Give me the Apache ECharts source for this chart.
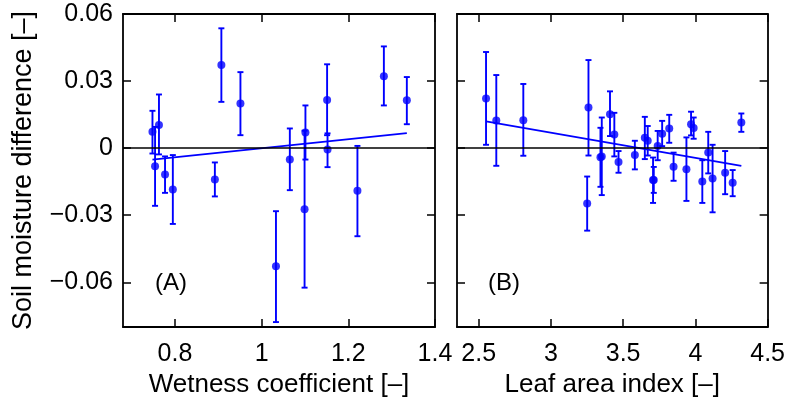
<!DOCTYPE html>
<html>
<head>
<meta charset="utf-8">
<script src="https://cdn.jsdelivr.net/npm/echarts@6/dist/echarts.min.js"></script>
<style>
html,body{margin:0;padding:0;background:#fff;}
#c{width:788px;height:408px;}
</style>
</head>
<body>
<div id="c"></div>
<script>
// ---- Panel A: wetness coefficient ----
const wetX  = [0.748, 0.754, 0.763, 0.777, 0.795, 0.892, 0.907, 0.951, 1.033, 1.065, 1.101, 1.099, 1.151, 1.152, 1.221, 1.282, 1.335];
const wetY  = [0.0073, -0.0081, 0.0104, -0.0118, -0.0185, -0.0140, 0.0372, 0.0200, -0.0528, -0.0051, 0.0070, -0.0273, 0.0215, -0.0006, -0.0191, 0.0322, 0.0214];
const wetLo = [-0.0024, -0.0258, -0.0028, -0.0200, -0.0339, -0.0216, 0.0207, 0.0058, -0.0778, -0.0188, -0.0051, -0.0624, 0.0058, -0.0085, -0.0394, 0.0191, 0.0107];
const wetHi = [0.0167, 0.0095, 0.0240, -0.0037, -0.0031, -0.0064, 0.0536, 0.0340, -0.0282, 0.0088, 0.0191, 0.0078, 0.0375, 0.0066, 0.0010, 0.0455, 0.0318];
const wetFitX = [0.748, 1.335];
const wetFitY = [-0.0051, 0.0067];

// ---- Panel B: leaf area index ----
const laiX  = [2.551, 2.622, 2.809, 3.260, 3.251, 3.343, 3.352, 3.409, 3.439, 3.468, 3.581, 3.650, 3.670, 3.707, 3.712, 3.739, 3.770, 3.819, 3.849, 3.938, 3.970, 3.988, 4.048, 4.089, 4.119, 4.206, 4.258, 4.318];
const laiY  = [0.0222, 0.0124, 0.0125, 0.0182, -0.0248, -0.0041, -0.0037, 0.0152, 0.0061, -0.0062, -0.0031, 0.0046, 0.0033, -0.0143, -0.0142, 0.0010, 0.0064, 0.0088, -0.0083, -0.0094, 0.0107, 0.0090, -0.0149, -0.0019, -0.0136, -0.0110, -0.0155, 0.0115];
const laiLo = [0.0015, -0.0079, -0.0034, -0.0033, -0.0369, -0.0173, -0.0210, 0.0054, -0.0037, -0.0110, -0.0095, -0.0049, -0.0033, -0.0245, -0.0200, -0.0054, 0.0009, 0.0024, -0.0146, -0.0236, 0.0057, 0.0042, -0.0245, -0.0113, -0.0287, -0.0206, -0.0215, 0.0073];
const laiHi = [0.0430, 0.0327, 0.0287, 0.0394, -0.0127, 0.0091, 0.0137, 0.0254, 0.0158, -0.0013, 0.0033, 0.0140, 0.0099, -0.0042, -0.0084, 0.0077, 0.0122, 0.0149, -0.0020, 0.0048, 0.0163, 0.0137, -0.0054, 0.0073, 0.0015, -0.0013, -0.0098, 0.0155];
const laiFitX = [2.551, 4.318];
const laiFitY = [0.0120, -0.0079];

// ---- axes ----
const wetTicks = [0.8, 1, 1.2, 1.4];
const laiTicks = [2.5, 3, 3.5, 4, 4.5];
const yTicks = [-0.06, -0.03, 0, 0.03, 0.06];
const wetRange = [0.68, 1.4];
const laiRange = [2.35, 4.5];
const yRange = [-0.08, 0.06];
const yName = 'Soil moisture difference [–]';
const wetName = 'Wetness coefficient [–]';
const laiName = 'Leaf area index [–]';
const panelLabels = ['(A)', '(B)'];

const FONT = '"Liberation Sans", Arial, Helvetica, sans-serif';
const BLUE = '#0000ff';

function fmtY(v) {
  if (Math.abs(v) < 1e-9) return '0';
  const s = Math.abs(v).toFixed(2);
  return (v < 0 ? '\u2212' : '') + s;
}

const lineStyle = {color: '#000', width: 1.8};
function xAxisDef(grid, range, ticks, name, showLabel, pos) {
  return {
    type: 'value', gridIndex: grid, min: range[0], max: range[1], position: pos,
    name: showLabel ? name : '', nameLocation: 'middle', nameGap: 45,
    nameTextStyle: {fontFamily: FONT, fontSize: 26, color: '#000'},
    axisLine: {show: true, onZero: false, lineStyle: lineStyle},
    axisTick: {show: true, inside: true, length: 8, lineStyle: {color: '#000', width: 1.5}, customValues: ticks},
    axisLabel: {show: showLabel, customValues: ticks, fontFamily: FONT, fontSize: 25, color: '#000', margin: 15,
      formatter: v => String(+v.toFixed(2)), showMinLabel: true, showMaxLabel: true},
    splitLine: {show: false}
  };
}
function yAxisDef(grid, showLabel, pos) {
  return {
    type: 'value', gridIndex: grid, min: yRange[0], max: yRange[1], position: pos,
    name: showLabel ? yName : '', nameLocation: 'middle', nameGap: 86, nameRotate: 90,
    nameTextStyle: {fontFamily: FONT, fontSize: 27, color: '#000'},
    axisLine: {show: true, onZero: false, lineStyle: lineStyle},
    axisTick: {show: true, inside: true, length: 8, lineStyle: {color: '#000', width: 1.5}, customValues: yTicks},
    axisLabel: {show: showLabel, customValues: yTicks, fontFamily: FONT, fontSize: 25, color: '#000', margin: 10,
      formatter: fmtY},
    splitLine: {show: false}
  };
}

function errSeries(xAxisIndex, yAxisIndex, xs, lo, hi) {
  return {
    type: 'custom', xAxisIndex, yAxisIndex, silent: true, z: 3,
    data: xs.map((x, i) => [x, lo[i], hi[i]]),
    encode: {x: 0, y: [1, 2]},
    renderItem: function (params, api) {
      const top = api.coord([api.value(0), api.value(2)]);
      const bot = api.coord([api.value(0), api.value(1)]);
      const w = 3;
      const st = {stroke: BLUE, lineWidth: 1.9};
      return {
        type: 'group',
        children: [
          {type: 'line', shape: {x1: top[0], y1: top[1], x2: bot[0], y2: bot[1]}, style: st},
          {type: 'line', shape: {x1: top[0] - w, y1: top[1], x2: top[0] + w, y2: top[1]}, style: st},
          {type: 'line', shape: {x1: bot[0] - w, y1: bot[1], x2: bot[0] + w, y2: bot[1]}, style: st}
        ]
      };
    }
  };
}
function ptSeries(xAxisIndex, yAxisIndex, xs, ys) {
  return {
    type: 'scatter', xAxisIndex, yAxisIndex, silent: true, z: 4,
    symbol: 'circle', symbolSize: 8,
    itemStyle: {color: BLUE},
    data: xs.map((x, i) => [x, ys[i]]),
    markLine: {
      silent: true, symbol: ['none', 'none'], label: {show: false},
      lineStyle: {color: '#000', width: 1.6, type: 'solid'},
      data: [{yAxis: 0}], animation: false
    }
  };
}
function fitSeries(xAxisIndex, yAxisIndex, xs, ys) {
  return {
    type: 'line', xAxisIndex, yAxisIndex, silent: true, z: 3,
    symbol: 'none', lineStyle: {color: BLUE, width: 1.8},
    data: xs.map((x, i) => [x, ys[i]])
  };
}

const chart = echarts.init(document.getElementById('c'), null, {renderer: 'canvas'});
chart.setOption({
  animation: false,
  backgroundColor: '#fff',
  grid: [
    {left: 123, right: 353, top: 14, bottom: 81},
    {left: 457, right: 18, top: 14, bottom: 81}
  ],
  xAxis: [
    xAxisDef(0, wetRange, wetTicks, wetName, true, 'bottom'),
    xAxisDef(0, wetRange, wetTicks, wetName, false, 'top'),
    xAxisDef(1, laiRange, laiTicks, laiName, true, 'bottom'),
    xAxisDef(1, laiRange, laiTicks, laiName, false, 'top')
  ],
  yAxis: [
    yAxisDef(0, true, 'left'),
    yAxisDef(0, false, 'right'),
    yAxisDef(1, false, 'left'),
    yAxisDef(1, false, 'right')
  ],
  graphic: [
    {type: 'text', left: 155, top: 271, style: {text: panelLabels[0], font: '24px ' + FONT, fill: '#000'}},
    {type: 'text', left: 488, top: 271, style: {text: panelLabels[1], font: '24px ' + FONT, fill: '#000'}}
  ],
  series: [
    errSeries(0, 0, wetX, wetLo, wetHi),
    ptSeries(0, 0, wetX, wetY),
    fitSeries(0, 0, wetFitX, wetFitY),
    errSeries(2, 2, laiX, laiLo, laiHi),
    ptSeries(2, 2, laiX, laiY),
    fitSeries(2, 2, laiFitX, laiFitY)
  ]
});
</script>
</body>
</html>
